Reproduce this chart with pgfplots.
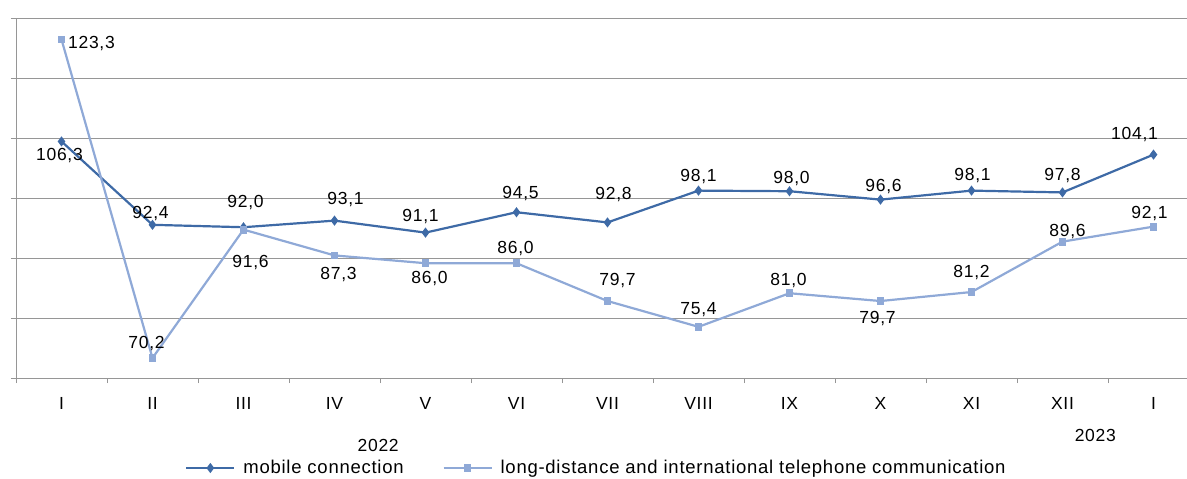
\documentclass[border=0pt]{standalone}
\usepackage{pgfplots}
\pgfplotsset{compat=1.18}
\usepackage{pgfplotstable}
\usepackage{fontspec}
\setmainfont{Liberation Sans}[LetterSpace=4]
\definecolor{mob}{RGB}{62,106,166}
\definecolor{ldc}{RGB}{143,169,215}
\definecolor{gridc}{RGB}{150,150,150}

\pgfplotstableread{
x y dx dy
0 106.3 -2 -13
1 92.4 -2 12
2 92.0 2 26
3 93.1 11 22
4 91.1 -5 17
5 94.5 4 20
6 92.8 6 29
7 98.1 0 15
8 98.0 2 14
9 96.6 3 14
10 98.1 1 16
11 97.8 0 18
12 104.1 -19 21
}\mobiletab

\pgfplotstableread{
x y dx dy
0 123.3 30 -3
1 70.2 -6 16
2 91.6 7 -32
3 87.3 4 -18
4 86.0 4 -14
5 86.0 -1 16
6 79.7 10 22
7 75.4 0 18
8 81.0 -1 14
9 79.7 -3 -16
10 81.2 0 21
11 89.6 5 11
12 92.1 -4 14
}\ldctab

\begin{document}
\begin{tikzpicture}[font=\fontsize{17.5bp}{21bp}\selectfont]
\begin{axis}[
  at={(16bp,-378bp)}, anchor=south west,
  scale only axis, width=1183bp, height=360bp,
  xmin=-0.5, xmax=12.5,
  ymin=66.87, ymax=126.87,
  clip=false,
  axis x line*=bottom, axis y line*=left,
  axis line style={gridc, line width=1bp, -},
  xtick={0,...,12},
  xticklabels={I,II,III,IV,V,VI,VII,VIII,IX,X,XI,XII,I},
  xticklabel style={inner sep=0pt, yshift=-19bp, font=\fontsize{17.5bp}{21bp}\selectfont},
  minor xtick={-0.5,0.5,...,12.5},
  ytick={66.87,76.87,86.87,96.87,106.87,116.87,126.87},
  minor ytick={66.87,76.87,86.87,96.87,106.87,116.87,126.87},
  yticklabels={},
  major tick length=0pt, minor tick length=5bp,
  tick align=outside,
  tick style={gridc, line width=1bp},
  ymajorgrids, grid style={gridc, line width=1bp},
  /pgf/number format/assume math mode=true,
  /pgf/number format/.cd, use comma, fixed, fixed zerofill, precision=1, /pgfplots/.cd,
  legend columns=2,
  legend cell align=left,
  legend style={at={(0.1429,-0.25)}, anchor=west, draw=none, fill=none, inner sep=0pt,
    nodes={inner sep=0pt},
    font=\fontsize{18.5bp}{22bp}\selectfont,
    /tikz/every odd column/.append style={column sep=8bp},
    /tikz/every even column/.append style={column sep=34bp}},
  legend image code/.code={\draw[mark repeat=2,mark phase=2] plot coordinates {(0bp,0bp)(24bp,0bp)(48bp,0bp)};},
  nodes near coords,
  point meta=y,
  visualization depends on={\thisrow{dx} \as \ddx},
  visualization depends on={\thisrow{dy} \as \ddy},
  every node near coord/.append style={anchor=center, xshift=\ddx bp, yshift=\ddy bp, inner sep=0pt, text depth=0pt, text=black, font=\fontsize{17.5bp}{21bp}\selectfont},
]
\addplot[color=mob, line width=2.2bp, mark=diamond*, mark size=3.3bp, mark options={solid, fill=mob}] table[x=x, y=y] {\mobiletab};
\addlegendentry{\makebox[165bp][l]{mobile connection}}
\addplot[color=ldc, line width=2.2bp, mark=square*, mark size=2.8bp, mark options={solid, fill=ldc}] table[x=x, y=y] {\ldctab};
\addlegendentry{long-distance and international telephone communication}
\node[anchor=center] at (axis cs:3.48,66.87) [yshift=-67bp] {2022};
\node[anchor=center] at (axis cs:11.36,66.87) [yshift=-57bp] {2023};
\end{axis}
\pgfresetboundingbox
\path[use as bounding box] (0,0) rectangle (1187bp,-479bp);
\end{tikzpicture}
\end{document}
